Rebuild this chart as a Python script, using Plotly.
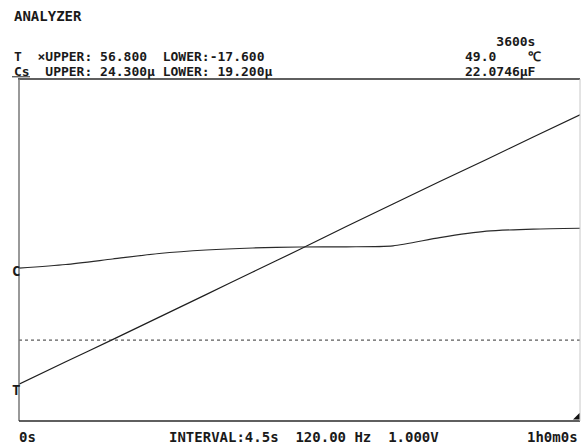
import plotly.graph_objects as go

# Logged samples (seconds since start)
time_s = [0, 300, 600, 900, 1200, 1500, 1800, 2100, 2400, 2700, 3000, 3300, 3600]
temp_c = [-9.6, -4.7, 0.1, 5.0, 9.9, 14.8, 19.7, 24.7, 29.6, 34.5, 39.3, 44.2, 49.0]
cs_uf = [21.48, 21.534, 21.616, 21.698, 21.75, 21.78, 21.795, 21.798, 21.812,
         21.935, 22.03, 22.062, 22.0746]

t_upper, t_lower = 56.8, -17.6
cs_upper, cs_lower = 24.3, 19.2
t_end = 3600

W, H = 581, 448
L, R, T, B = 19, 1, 79, 27
PW, PH = W - L - R, H - T - B

FONT = "DejaVu Sans Mono"
INK = "#1a1a1a"
GLYPH = 13          # character size of the header rows
ROW = 15.2 / 1.3    # base size giving a 15.2 px row pitch
LABEL = 14          # single-line labels


def px(x):
    return (x - L) / PW


def py(y):
    return (H - B - y) / PH


fig = go.Figure()

fig.add_trace(go.Scatter(x=time_s, y=cs_uf, mode="lines", yaxis="y2",
                         line=dict(color="#2a2a2a", width=1.2, shape="spline",
                                   smoothing=0.7),
                         hoverinfo="skip", showlegend=False))
fig.add_trace(go.Scatter(x=time_s, y=temp_c, mode="lines", yaxis="y",
                         line=dict(color="#1e1e1e", width=1.2, shape="spline",
                                   smoothing=0.7),
                         hoverinfo="skip", showlegend=False))

shapes = [
    # zero line of the temperature channel
    dict(type="line", xref="paper", x0=0, x1=1, yref="y", y0=0, y1=0,
         line=dict(color="#333", width=1, dash="dot")),
    # frame
    dict(type="line", xref="paper", yref="paper", x0=px(18), x1=1, y0=1, y1=1,
         line=dict(color="#2a2a2a", width=1.5)),
    dict(type="line", xref="paper", yref="paper", x0=0, x1=0, y0=0, y1=1,
         line=dict(color="#777", width=1.5)),
    dict(type="line", xref="paper", yref="paper", x0=0, x1=1, y0=0, y1=0,
         line=dict(color="#2a2a2a", width=1.5)),
    dict(type="line", xref="paper", yref="paper", x0=1, x1=1, y0=0, y1=1,
         line=dict(color="#c8c8c8", width=1)),
    # active-channel underline
    dict(type="line", xref="paper", yref="paper", x0=px(12), x1=px(30),
         y0=py(76.8), y1=py(76.8), line=dict(color="#222", width=1)),
    # end-of-record marker
    dict(type="path", xref="paper", yref="paper",
         path=f"M {px(573)} {py(419.5)} L {px(579.5)} {py(419.5)} L {px(579.5)} {py(413)} Z",
         fillcolor="#111", line=dict(width=0)),
]

annotations = []


def block(lines, x, y, anchor="left"):
    """Monospace text block with a fixed row pitch."""
    text = "<br>".join(f"<span style='font-size:{GLYPH}px'><b>{s}</b></span>"
                       for s in lines)
    annotations.append(dict(text=text, xref="paper", yref="paper", x=px(x), y=py(y),
                            xanchor=anchor, yanchor="middle", align="left",
                            showarrow=False,
                            font=dict(family=FONT, size=ROW, color=INK)))


def label(text, x, y, anchor="left"):
    annotations.append(dict(text=f"<b>{text}</b>", xref="paper", yref="paper",
                            x=px(x), y=py(y), xanchor=anchor, yanchor="middle",
                            showarrow=False,
                            font=dict(family=FONT, size=LABEL, color=INK)))


label("ANALYZER", 12, 16)
block(["T  ×UPPER: 56.800  LOWER:-17.600",
       "Cs  UPPER: 24.300μ LOWER: 19.200μ"], 12, 63.6)
block(["    3600s",
       "49.0    ℃",
       "22.0746μF"], 463, 56)
label("0s", 17, 437)
label("INTERVAL:4.5s  120.00 Hz  1.000V", 167, 437)
label("1h0m0s", 580, 437, "right")
label("C", 10, 271)
label("T", 10, 390)

fig.update_layout(
    width=W, height=H,
    margin=dict(l=L, r=R, t=T, b=B),
    paper_bgcolor="white", plot_bgcolor="white",
    xaxis=dict(range=[0, t_end], visible=False, fixedrange=True),
    yaxis=dict(range=[t_lower, t_upper], visible=False),
    yaxis2=dict(range=[cs_lower, cs_upper], visible=False, overlaying="y"),
    shapes=shapes, annotations=annotations,
)

fig.write_html("out.html")
